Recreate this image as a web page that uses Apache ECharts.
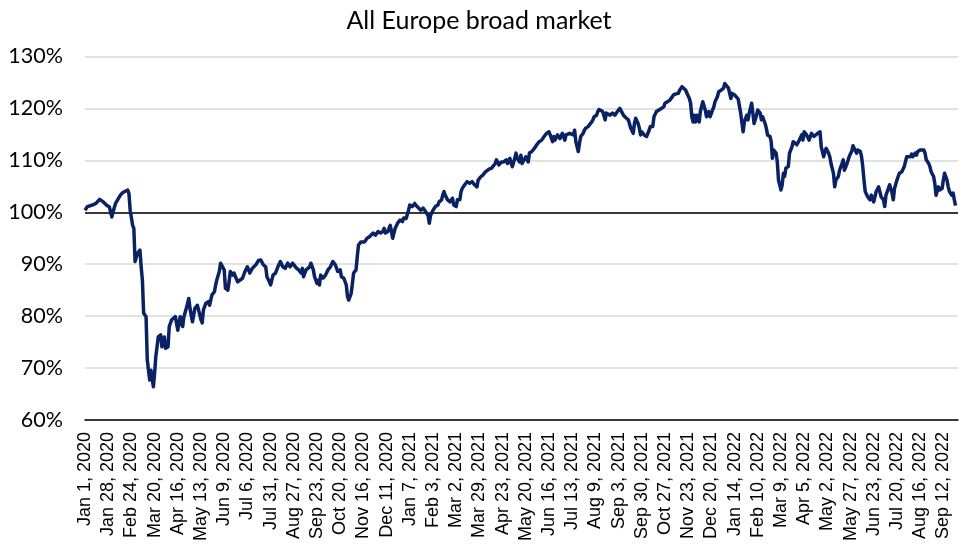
<!DOCTYPE html>
<html>
<head>
<meta charset="utf-8">
<script src="https://cdn.jsdelivr.net/npm/echarts@6/dist/echarts.min.js"></script>
<style>
  html, body { margin: 0; padding: 0; background: #fff; }
  #chart { width: 967px; height: 548px; }
</style>
</head>
<body>
<div id="chart"></div>
<script>
// ---- Data ----
const chartTitle = 'All Europe broad market';
const firstTradingDay = '2020-01-01';
const tradingDayCount = 716;          // weekdays on the category axis
const labelEveryNDays = 19;           // a tick label every 19 weekdays
const yTicks = [60, 70, 80, 90, 100, 110, 120, 130];
const baseline = 100;

// Trading-day position (weekday number since Jan 1, 2020) of each read point
const dayIndex = [
  0,2,6,9,12,15,18,20,22,23,25,26,29,31,35,36,37,39,40,41,43,45,46,47,48,50,51,52,53,54,56,57,58,59,60,62,63,65,66,68,69,71,74,76,78,80,81,83,85,86,88,
  90,92,93,95,96,97,99,101,102,104,106,107,108,110,111,112,114,115,117,118,119,121,122,123,125,126,129,131,133,135,137,140,142,144,146,148,149,151,152,154,156,158,160,162,164,166,168,170,173,175,177,178,179,181,184,185,187,188,190,191,192,193,195,197,199,
  201,203,205,207,209,210,212,214,215,216,218,219,220,222,223,224,226,227,229,231,233,234,236,238,240,242,244,245,246,248,250,251,252,254,256,258,260,261,263,265,266,268,270,272,273,275,277,278,279,281,282,283,285,287,289,290,292,293,294,295,297,299,
  301,302,304,305,307,308,309,311,312,313,315,317,319,321,322,324,326,328,331,333,334,336,337,339,341,343,345,346,348,349,350,352,353,354,356,357,358,359,361,363,364,366,368,370,372,374,376,378,380,381,383,384,385,387,389,390,391,393,394,395,397,398,
  400,401,402,404,405,406,408,409,410,412,413,415,416,417,419,420,421,424,425,426,427,430,432,434,436,438,439,441,443,445,446,447,449,450,451,453,454,455,456,458,459,460,462,463,465,466,468,470,472,474,475,477,479,482,484,486,487,489,490,492,493,495,496,497,498,499,
  500,501,503,504,506,507,508,509,511,512,514,515,516,518,519,521,523,524,525,527,528,529,530,532,533,535,536,537,539,540,542,543,544,546,547,548,550,551,553,554,555,557,558,559,561,562,563,564,566,567,568,570,571,572,573,574,576,577,579,580,581,583,585,587,588,589,591,593,595,597,598,
  600,602,603,605,606,607,609,610,611,613,614,615,617,618,620,621,622,624,625,626,628,629,630,632,633,635,636,637,638,639,640,641,643,644,646,647,648,650,651,652,654,655,656,658,659,661,662,663,665,666,667,669,670,671,673,674,676,677,678,680,681,682,684,685,687,688,689,691,692,693,695,696,697,699,
  700,702,703,704,706,707,708,710,711,712,713
];

// Index level (% of Jan 1, 2020) at each read point
const indexLevel = [
  100.4,101.1,101.4,101.7,102.5,102.0,101.3,101.0,99.1,100.1,101.7,102.0,103.3,103.8,104.3,103.6,100.4,97.5,96.9,90.5,92.1,92.7,89.5,87.0,80.6,79.9,71.6,69.6,67.7,69.6,66.4,69.0,72.2,74.1,76.0,76.4,74.1,76.0,73.8,74.1,78.0,79.3,79.9,77.3,79.9,78.0,79.9,81.5,83.4,81.5,78.9,
  81.5,82.1,81.2,79.3,78.7,81.2,82.5,82.8,82.1,84.1,84.7,86.0,87.0,88.6,90.2,90.2,88.9,85.4,85.0,86.6,88.6,87.9,88.3,88.3,86.6,86.6,87.3,88.6,89.5,88.3,89.2,89.9,90.7,90.8,89.9,89.5,87.6,86.6,86.0,87.9,88.3,89.5,90.5,89.5,89.2,90.2,89.5,90.2,89.3,88.9,88.3,89.2,87.6,88.9,89.5,90.2,88.9,87.6,86.3,86.9,86.0,87.9,87.3,87.9,88.9,
  89.5,90.5,89.9,88.6,88.9,87.6,87.3,86.0,83.7,83.1,84.4,86.3,88.3,88.9,91.5,93.7,94.3,94.6,94.3,95.0,95.3,95.0,96.0,95.6,96.3,96.0,96.3,96.9,96.0,96.3,97.5,96.3,95.0,96.9,97.9,98.5,98.2,98.9,98.8,100.4,101.4,101.1,101.7,101.1,101.4,100.4,100.8,101.1,100.1,99.4,97.9,99.4,100.4,101.1,101.4,102.0,102.4,103.3,104.0,103.3,102.4,102.0,
  102.7,101.4,101.1,102.4,102.4,104.0,104.6,105.3,105.6,105.9,105.6,105.9,105.3,104.9,106.2,106.8,107.2,107.8,108.3,108.5,108.8,109.4,110.1,109.1,109.7,109.7,110.1,109.4,110.4,109.4,108.8,110.4,111.4,110.4,109.7,111.0,109.4,109.1,110.7,109.7,111.4,111.7,112.3,113.0,113.6,113.9,114.6,115.2,115.5,114.9,113.6,114.6,113.9,114.9,114.2,113.9,115.2,113.9,114.9,114.6,115.2,115.5,
  114.9,115.8,113.6,111.7,113.3,114.6,115.2,115.8,116.2,116.5,116.8,117.4,117.8,118.4,118.7,119.4,119.8,119.4,119.1,117.8,119.1,118.7,119.1,118.7,119.4,120.0,119.7,118.7,118.2,117.8,117.5,116.2,115.2,117.1,118.1,117.1,116.2,114.9,115.5,114.9,115.2,114.6,115.8,116.5,116.5,118.4,119.4,119.7,120.0,120.3,121.0,121.3,121.6,122.6,122.8,122.9,123.5,124.2,124.3,123.5,122.9,121.9,121.0,118.4,117.4,118.7,
  117.4,118.7,117.4,119.4,121.3,121.0,119.7,118.4,119.4,118.4,119.7,120.3,121.3,122.3,123.2,123.5,123.9,124.8,124.5,123.9,122.9,121.9,122.9,122.6,122.3,121.8,121.6,119.1,115.5,117.4,118.7,117.8,119.1,121.0,119.1,117.1,118.7,119.7,119.1,117.8,118.4,117.1,116.2,114.9,114.6,113.6,110.4,112.0,111.4,109.7,106.2,104.3,105.3,107.5,106.9,108.5,108.8,111.4,112.6,113.6,113.9,113.0,113.9,114.9,113.9,115.5,114.9,113.9,115.2,114.6,114.9,
  115.2,115.5,112.6,110.7,111.7,112.3,111.4,110.7,109.4,107.5,104.9,106.2,106.9,108.1,109.4,110.1,108.1,109.3,109.5,110.8,111.8,112.8,112.3,111.4,112.0,111.7,110.7,108.8,106.2,104.0,104.3,103.0,102.4,103.3,102.0,101.7,104.0,104.9,104.6,103.0,102.4,101.1,103.3,104.6,105.3,103.7,102.4,104.6,106.2,106.9,107.5,107.8,108.1,108.8,110.7,111.0,110.7,111.2,110.7,111.4,111.0,111.7,112.0,112.3,112.0,111.4,110.1,109.4,108.8,107.8,106.9,105.6,103.3,104.9,
  104.3,104.6,106.2,107.5,106.2,104.9,104.0,103.3,103.7,102.4,101.3
];

// ---- Category axis: weekday dates ----
const monthNames = ['Jan','Feb','Mar','Apr','May','Jun','Jul','Aug','Sep','Oct','Nov','Dec'];
function buildWeekdays(startIso, count) {
  const out = [];
  const d = new Date(startIso + 'T00:00:00Z');
  while (out.length < count) {
    const wd = d.getUTCDay();
    if (wd !== 0 && wd !== 6) {
      out.push(monthNames[d.getUTCMonth()] + ' ' + d.getUTCDate() + ', ' + d.getUTCFullYear());
    }
    d.setUTCDate(d.getUTCDate() + 1);
  }
  return out;
}
const categories = buildWeekdays(firstTradingDay, tradingDayCount);
const seriesData = dayIndex.map((i, k) => [i, indexLevel[k]]);

const chart = echarts.init(document.getElementById('chart'), null, { renderer: 'canvas' });
chart.setOption({
  animation: false,
  backgroundColor: '#ffffff',
  title: {
    text: chartTitle,
    left: 474,
    top: 3,
    textAlign: 'center',
    textStyle: { fontFamily: 'Lato', fontSize: 25, fontWeight: 'normal', color: '#000000' }
  },
  grid: { left: 85, right: 9, top: 56.5, bottom: 128, containLabel: false },
  xAxis: {
    type: 'category',
    data: categories,
    boundaryGap: false,
    axisLine: { show: true, lineStyle: { color: '#000000', width: 1.5 } },
    axisTick: { show: false },
    axisLabel: {
      interval: labelEveryNDays - 1,
      rotate: 90,
      fontFamily: 'Liberation Sans',
      fontSize: 18,
      color: '#000000',
      margin: 12
    },
    splitLine: { show: false }
  },
  yAxis: {
    type: 'value',
    min: yTicks[0],
    max: yTicks[yTicks.length - 1],
    interval: 10,
    axisLine: { show: false },
    axisTick: { show: false },
    axisLabel: { formatter: '{value}%', fontFamily: 'Lato', fontSize: 21.5, color: '#000000', margin: 22 },
    splitLine: { lineStyle: { color: '#d9d9d9', width: 1.5 } }
  },
  series: [{
    type: 'line',
    data: seriesData,
    showSymbol: false,
    symbol: 'none',
    z: 3,
    lineStyle: { color: '#0a2263', width: 3.5, join: 'round' },
    markLine: {
      silent: true,
      z: 1,
      symbol: 'none',
      label: { show: false },
      lineStyle: { color: '#000000', width: 1.5, type: 'solid' },
      data: [{ yAxis: baseline }]
    }
  }]
});
</script>
</body>
</html>
